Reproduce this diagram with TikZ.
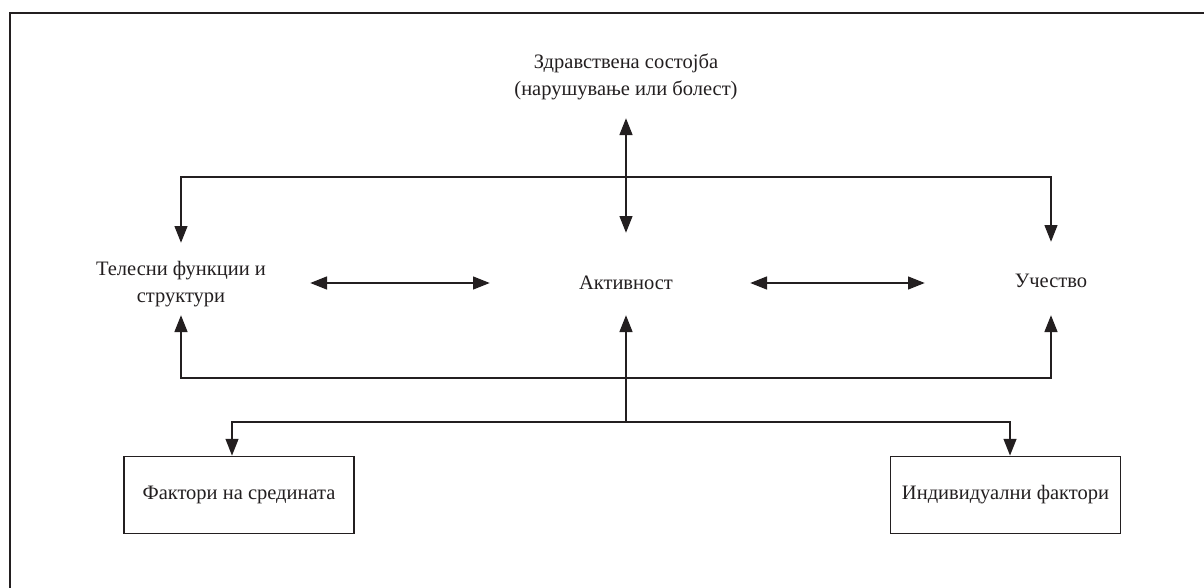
\documentclass[tikz,border=0pt]{standalone}
\usepackage{fontspec}
\setmainfont{Liberation Serif}
\usetikzlibrary{arrows.meta}
\definecolor{ink}{HTML}{231F20}
\tikzset{
  tip/.tip={Triangle[length=17pt,width=12.5pt]},
  conn/.style={draw=ink, line width=2.8pt, -tip},
  dconn/.style={draw=ink, line width=2.8pt, tip-tip},
  lbl/.style={inner sep=0pt, text=ink, font=\fontsize{20.5}{27}\selectfont, align=center},
  fbox/.style={draw=ink, line width=1.4pt, minimum width=230pt, minimum height=77pt, inner sep=0pt, text=ink, font=\fontsize{20.5}{27}\selectfont}
}
\begin{document}
\begin{tikzpicture}[x=1pt,y=-1pt]
\useasboundingbox (0,0) rectangle (1204,587);
\fill[white] (0,0) rectangle (1204,587);
\draw[ink, line width=2.8pt] (10,590) -- (10,13) -- (1206,13);

\node[lbl] (health) at (626,77) {Здравствена состојба\\(нарушување или болест)};
\node[lbl] (body) at (181,284) {Телесни функции и\\структури};
\node[lbl] (act) at (626,283) {Активност};
\node[lbl] (part) at (1051,281) {Учество};
\node[fbox] (env) at (239,495) {Фактори на средината};
\node[fbox] (ind) at (1005.5,495) {Индивидуални фактори};

\coordinate (tb) at (626,177);
\coordinate (bb) at (626,378);
\coordinate (lb) at (626,422);

% top
\draw[dconn] ([yshift=-41pt]health.center) -- ([yshift=50pt]act.center);
\draw[conn] (tb) -| ([yshift=41pt]body.center);
\draw[conn] (tb) -| ([yshift=39pt]part.center);

% horizontal
\draw[dconn] ([xshift=129pt]body.center |- act) -- ([xshift=-136pt]act.center);
\draw[dconn] ([xshift=124pt]act.center) -- ([xshift=-126pt]part.center |- act);

% bottom
\draw[conn] (bb) -| ([yshift=-31pt]body.center);
\draw[conn] (bb) -| ([yshift=-34pt]part.center);
\draw[conn] (lb) -- ([yshift=-32pt]act.center);
\draw[conn] (lb) -| ([xshift=-7pt]env.north);
\draw[conn] (lb) -| ([xshift=4.5pt]ind.north);
\end{tikzpicture}
\end{document}
